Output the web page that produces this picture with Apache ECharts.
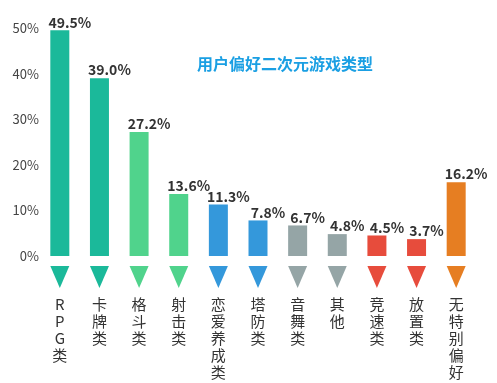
<!DOCTYPE html>
<html><head><meta charset="utf-8">
<script src="https://cdn.jsdelivr.net/npm/echarts@6/dist/echarts.min.js"></script>
<style>html,body{margin:0;padding:0;background:#fff}#c{width:497px;height:383px}</style>
</head><body><div id="c"></div>
<script>
const title = '用户偏好二次元游戏类型';
const categories = ['RPG类','卡牌类','格斗类','射击类','恋爱养成类','塔防类','音舞类','其他','竞速类','放置类','无特别偏好'];
const values = [49.5, 39.0, 27.2, 13.6, 11.3, 7.8, 6.7, 4.8, 4.5, 3.7, 16.2];
const colors = ['#1bb99a','#1bb99a','#50d38c','#50d38c','#3498db','#3498db','#95a5a6','#95a5a6','#e74c3c','#e74c3c','#e67e22'];
const yTicks = [0, 10, 20, 30, 40, 50];

const chart = echarts.init(document.getElementById('c'), null, {renderer:'canvas'});
const font = '"Microsoft YaHei","Noto Sans CJK SC","Open Sans",sans-serif';
chart.setOption({
  animation:false,
  backgroundColor:'#fff',
  title:{text:title,left:280,top:51,textAlign:'center',
    textStyle:{color:'#1a9fe3',fontSize:16,fontWeight:'bold',fontFamily:font}},
  grid:{left:40,right:21,top:28,bottom:127},
  xAxis:{type:'category',data:categories,
    axisLine:{show:false},axisTick:{show:false},
    axisLabel:{interval:0,margin:40,color:'#333',fontSize:15,lineHeight:17,fontFamily:font,
      verticalAlign:'top',
      formatter:v=>v.split('').join('\n')}},
  yAxis:{type:'value',min:yTicks[0],max:yTicks[yTicks.length-1],interval:10,
    splitLine:{show:false},axisLine:{show:false},axisTick:{show:false},
    axisLabel:{color:'#444',fontSize:13,margin:1,fontFamily:font,formatter:'{value}%'}},
  series:[{
    type:'bar',barWidth:19,
    data:values.map((v,i)=>({value:v,itemStyle:{color:colors[i]}})),
    label:{show:true,position:'top',distance:1,offset:[10,0],color:'#333',fontSize:14,fontWeight:'bold',
      fontFamily:font,formatter:p=>p.value.toFixed(1)+'%'}
  },{
    type:'custom',clip:false,silent:true,
    data:values.map((v,i)=>[i,0]),
    renderItem:(params,api)=>{
      const p=api.coord([api.value(0),0]);
      const w=19, top=p[1]+10, h=22;
      return {type:'polygon',shape:{points:[[p[0]-w/2,top],[p[0]+w/2,top],[p[0],top+h]]},
        style:{fill:colors[params.dataIndex]}};
    }
  }]
});
</script></body></html>
